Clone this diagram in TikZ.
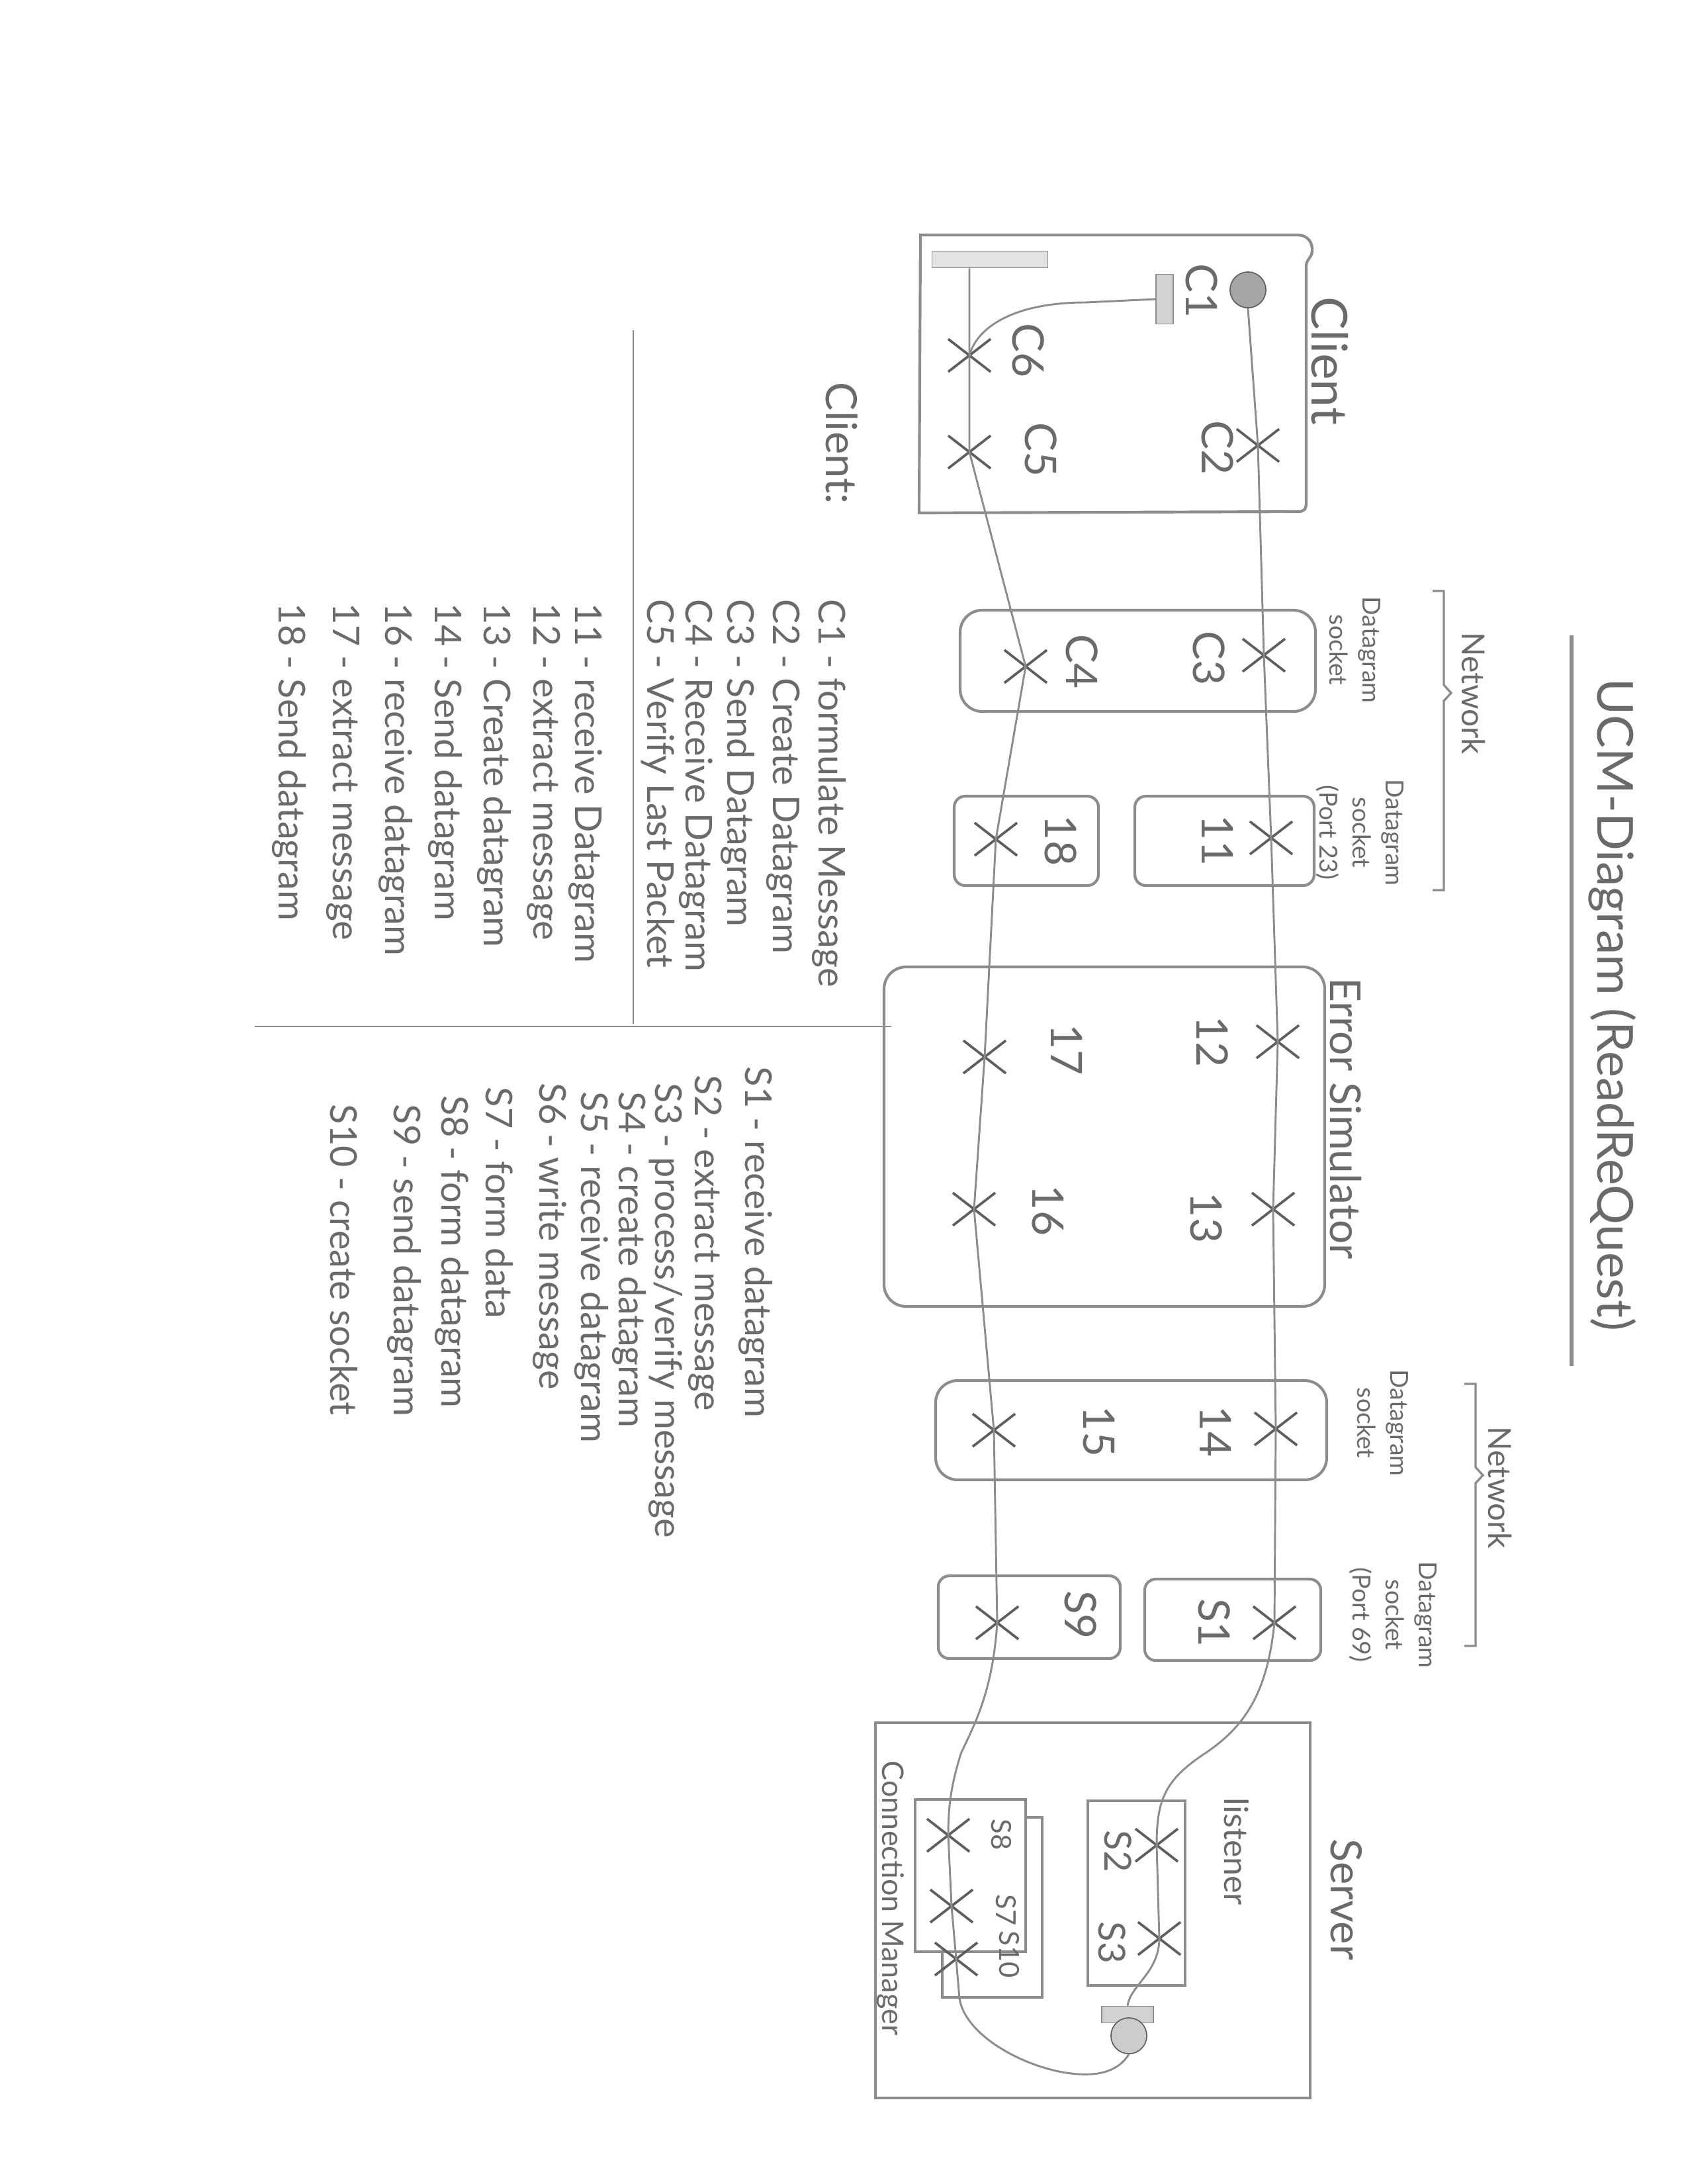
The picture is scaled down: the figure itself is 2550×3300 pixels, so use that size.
\documentclass[tikz,border=0pt]{standalone}
\usepackage{fontspec}
\setmainfont{Lato}
\usetikzlibrary{shapes.misc}
\definecolor{pencil}{HTML}{8C8C8C}
\definecolor{lead}{HTML}{5E5E5E}
\definecolor{ink}{HTML}{6A6A6A}
\begin{document}
\begin{tikzpicture}[x=0.24pt,y=-0.24pt,
  box/.style={draw=pencil, line width=1pt},
  route/.style={draw=pencil, line width=0.7pt},
  ucmx/.style={cross out, draw=lead, line width=0.9pt, minimum width=14.5pt, minimum height=11pt, inner sep=0pt},
  lbl/.style={rotate=-90, text=ink, inner sep=0pt, font=\fontsize{15.8}{18}\selectfont},
  slbl/.style={lbl, font=\fontsize{13.5}{16}\selectfont},
  tlbl/.style={lbl, font=\fontsize{10}{12}\selectfont},
  sock/.style={rotate=-90, text=ink, inner sep=0pt, align=center, font=\fontsize{9}{12}\selectfont},
  leg/.style={rotate=-90, anchor=west, text=ink, inner sep=0pt, font=\fontsize{13.4}{16}\selectfont},
  brace/.style={draw=pencil, line width=0.8pt}
]
\useasboundingbox (0,0) rectangle (2550,3300);

% ---------- title ----------
\node[lbl, font=\fontsize{18}{22}\selectfont] (title) at (2437,1518) {UCM-Diagram (ReadReQuest)};
\draw[pencil, line width=1.5pt] (2375,960) -- (2375,2064);

% ---------- legend ----------
\node[lbl, font=\fontsize{15.6}{18}\selectfont] (clientcol) at (1272,670) {Client:};
\draw[pencil, line width=0.5pt] (957,499) -- (957,1547);
\draw[pencil, line width=0.5pt] (385,1551) -- (1347,1551);

\node[leg] (lc1) at (1253,905) {C1 - formulate Message};
\node[leg] (lc2) at (1184,905) {C2 - Create Datagram};
\node[leg] (lc3) at (1115,905) {C3 - Send Datagram};
\node[leg] (lc4) at (1052,905) {C4 - Receive Datagram};
\node[leg] (lc5) at (994,905)  {C5 - Verify Last Packet};

\node[leg] (l11) at (885,911) {11 - receive Datagram};
\node[leg] (l12) at (822,911) {12 - extract message};
\node[leg] (l13) at (747,911) {13 - Create datagram};
\node[leg] (l14) at (673,911) {14 - Send datagram};
\node[leg] (l16) at (598,911) {16 - receive datagram};
\node[leg] (l17) at (518,911) {17 - extract message};
\node[leg] (l18) at (437,911) {18 - Send datagram};

\node[leg] (ls1)  at (1142,1611) {S1 - receive datagram};
\node[leg] (ls2)  at (1066,1624) {S2 - extract message};
\node[leg] (ls3)  at (1006,1636) {S3 - process/verify message};
\node[leg] (ls4)  at (951,1649)  {S4 - create datagram};
\node[leg] (ls5)  at (894,1649)  {S5 - receive datagram};
\node[leg] (ls6)  at (831,1636)  {S6 - write message};
\node[leg] (ls7)  at (755,1642)  {S7 - form data};
\node[leg] (ls8)  at (683,1655)  {S8 - form datagram};
\node[leg] (ls9)  at (611,1668)  {S9 - send datagram};
\node[leg] (ls10) at (520,1668)  {S10 - create socket};

% ---------- component boxes ----------
\draw[box] (1391,355) -- (1960,355) .. controls (1978,355) and (1984,368) .. (1983,380)
  .. controls (1982,390) and (1974,392) .. (1974,402) -- (1974,760)
  .. controls (1974,770) and (1970,773) .. (1962,773) -- (1389,775) -- cycle;
\node[lbl, font=\fontsize{18}{22}\selectfont] (clientlbl) at (2010,545) {Client};

\draw[box, rounded corners=8pt] (1451,922) rectangle (1988,1075);
\draw[box, rounded corners=4pt] (1715,1203) rectangle (1986,1338);
\draw[box, rounded corners=4pt] (1442,1203) rectangle (1660,1338);
\draw[box, rounded corners=8pt] (1336,1461) rectangle (2002,1974);
\node[lbl, font=\fontsize{15.4}{18}\selectfont] (eslbl) at (2034,1690) {Error Simulator};
\draw[box, rounded corners=8pt] (1414,2086) rectangle (2005,2236);
\draw[box, rounded corners=4pt] (1730,2386) rectangle (1996,2509);
\draw[box, rounded corners=4pt] (1418,2381) rectangle (1693,2506);

\draw[box] (1323,2603) rectangle (1980,3170);
\node[lbl, font=\fontsize{15.6}{18}\selectfont] (serverlbl) at (2035,2870) {Server};
\draw[box] (1644,2721) rectangle (1791,3000);
\node[lbl, font=\fontsize{12}{14}\selectfont] (listlbl) at (1869,2798) {listener};
\draw[box, fill=white] (1424,2746) rectangle (1575,3018);
\draw[box, fill=white] (1383,2719) rectangle (1550,2949);
\node[lbl, font=\fontsize{10.8}{13}\selectfont] (cmlbl) at (1346,2868) {Connection Manager};

% ---------- network brackets and socket labels ----------
\draw[brace] (2165,893) -- (2182,893) -- (2182,1035) -- (2193,1047) -- (2182,1059) -- (2182,1345) -- (2165,1345);
\node[lbl, font=\fontsize{11.5}{14}\selectfont] (net1) at (2227,1048) {Network};
\draw[brace] (2213,2091) -- (2230,2091) -- (2230,2217) -- (2241,2229) -- (2230,2241) -- (2230,2487) -- (2213,2487);
\node[lbl, font=\fontsize{11.5}{14}\selectfont] (net2) at (2267,2248) {Network};

\node[sock] (sk1) at (2048,982)  {Datagram\\socket};
\node[sock] (sk2) at (2055,1258) {Datagram\\socket\\(Port 23)};
\node[sock] (sk3) at (2090,2150) {Datagram\\socket};
\node[sock] (sk4) at (2105,2440) {Datagram\\socket\\(Port 69)};

% ---------- UCM elements ----------
\node[draw=pencil, fill=gray!22, minimum width=42pt, minimum height=6pt, inner sep=0pt] (cbar) at (1496,392) {};
\node[draw=pencil, fill=gray!35, minimum width=6.2pt, minimum height=18pt, inner sep=0pt] (c1bar) at (1760,452) {};
\node[circle, draw=lead, fill=gray!70, minimum size=13pt, inner sep=0pt] (start) at (1886,438) {};
\node[draw=pencil, fill=gray!35, minimum width=18.7pt, minimum height=6pt, inner sep=0pt] (sbar) at (1704,3044) {};
\node[circle, draw=lead, fill=gray!40, minimum size=13pt, inner sep=0pt] (scirc) at (1706,3076) {};

% crosses
\node[ucmx] (c2) at (1901,673) {};
\node[ucmx] (c3) at (1910,990) {};
\node[ucmx] (x11) at (1921,1266) {};
\node[ucmx] (x12) at (1931,1574) {};
\node[ucmx] (x13) at (1924,1827) {};
\node[ucmx] (x14) at (1928,2159) {};
\node[ucmx] (s1) at (1926,2452) {};
\node[ucmx] (s2) at (1748,2788) {};
\node[ucmx] (s3) at (1752,2929) {};
\node[ucmx] (c6) at (1465,537) {};
\node[ucmx] (c5) at (1465,683) {};
\node[ucmx] (c4) at (1550,1007) {};
\node[ucmx] (x18) at (1505,1268) {};
\node[ucmx] (x17) at (1488,1597) {};
\node[ucmx] (x16) at (1472,1827) {};
\node[ucmx] (x15) at (1502,2161) {};
\node[ucmx] (s9) at (1507,2452) {};
\node[ucmx] (s8) at (1433,2773) {};
\node[ucmx] (s7) at (1438,2880) {};
\node[ucmx] (s10) at (1445,2960) {};

% labels of responsibilities
\node[lbl] (tc1) at (1816,440) {C1};
\node[lbl] (tc2) at (1840,677) {C2};
\node[lbl] (tc5) at (1573,680) {C5};
\node[lbl] (tc6) at (1554,530) {C6};
\node[lbl] (tc3) at (1827,995) {C3};
\node[lbl] (tc4) at (1635,1000) {C4};
\node[lbl] (t11) at (1840,1270) {11};
\node[lbl] (t18) at (1603,1270) {18};
\node[lbl] (t12) at (1832,1574) {12};
\node[lbl] (t13) at (1823,1840) {13};
\node[lbl] (t17) at (1612,1586) {17};
\node[lbl] (t16) at (1584,1829) {16};
\node[lbl] (t14) at (1837,2163) {14};
\node[lbl] (t15) at (1661,2163) {15};
\node[lbl] (ts1) at (1835,2452) {S1};
\node[lbl] (ts9) at (1633,2440) {S9};
\node[slbl] (ts2) at (1690,2797) {S2};
\node[slbl] (ts3) at (1681,2935) {S3};
\node[tlbl] (ts8) at (1513,2772) {S8};
\node[tlbl] (ts7) at (1520,2886) {S7};
\node[tlbl] (ts10) at (1525,2953) {S10};

% ---------- paths ----------
\draw[route] (start.south) -- (c2.center) -- (c3.center) -- (x11.center) -- (x12.center)
  -- (x13.center) -- (x14.center) -- (s1.center)
  .. controls (1915,2560) and (1880,2610) .. (1820,2650)
  .. controls (1760,2690) and (1748,2720) .. (s2.center) -- (s3.center)
  .. controls (1752,2980) and (1708,3000) .. (sbar.north);
\draw[route] (scirc.south) .. controls (1690,3130) and (1660,3136) .. (1630,3134)
  .. controls (1560,3130) and (1460,3080) .. (1450,3020) -- (s10.center)
  -- (s7.center) -- (s8.center)
  .. controls (1433,2720) and (1440,2690) .. (1452,2650)
  .. controls (1470,2610) and (1500,2560) .. (s9.center)
  -- (x15.center) -- (x16.center) -- (x17.center) -- (x18.center) -- (c4.center)
  -- (c5.center) -- (c6.center) -- (cbar.south -| c6.center);
\draw[route] (c1bar.west) -- (1640,457) .. controls (1540,457) and (1478,490) .. (c6.center);
\end{tikzpicture}
\end{document}
